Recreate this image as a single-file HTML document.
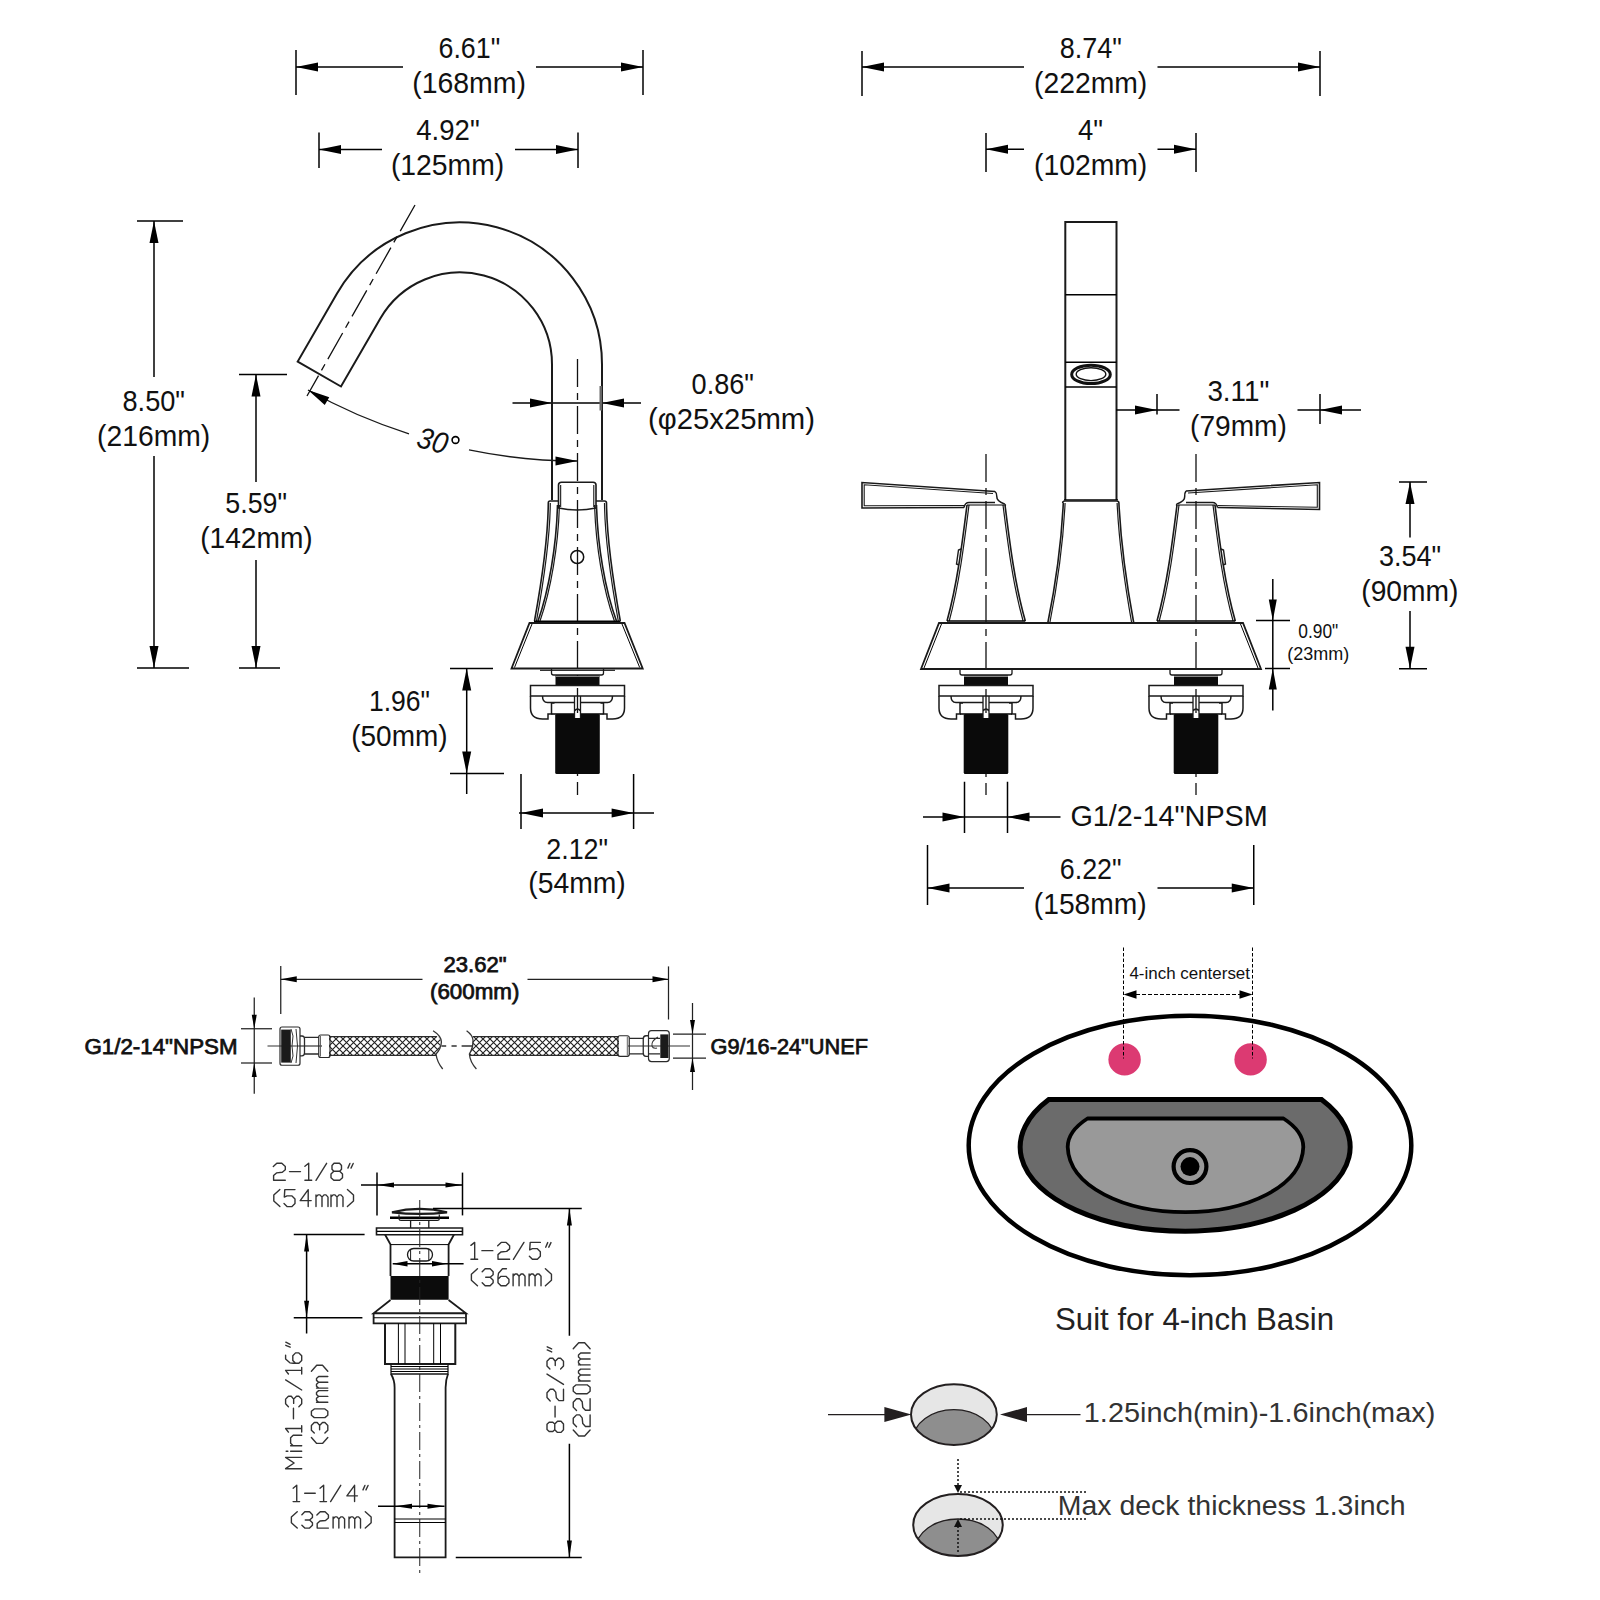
<!DOCTYPE html>
<html><head><meta charset="utf-8"><style>
html,body{margin:0;padding:0;background:#fff;overflow:hidden;width:1600px;height:1600px;}
svg{display:block;}
</style></head><body>
<svg width="1600" height="1600" viewBox="0 0 1600 1600">
<rect width="1600" height="1600" fill="#fff"/>
<line x1="296" y1="50" x2="296" y2="95" stroke="#000" stroke-width="1.5" />
<line x1="643" y1="50" x2="643" y2="95" stroke="#000" stroke-width="1.5" />
<line x1="296" y1="67" x2="403" y2="67" stroke="#000" stroke-width="1.5" />
<line x1="536" y1="67" x2="643" y2="67" stroke="#000" stroke-width="1.5" />
<polygon points="296,67 318,62.5 318,71.5" fill="#000"/>
<polygon points="643,67 621,71.5 621,62.5" fill="#000"/>
<text x="438.5" y="58" font-family="&quot;Liberation Sans&quot;, sans-serif" font-size="30" font-weight="normal" font-style="normal" fill="#111" textLength="61.7" lengthAdjust="spacingAndGlyphs" >6.61"</text>
<text x="412.2" y="92.6" font-family="&quot;Liberation Sans&quot;, sans-serif" font-size="30" font-weight="normal" font-style="normal" fill="#111" textLength="113.8" lengthAdjust="spacingAndGlyphs" >(168mm)</text>
<line x1="319" y1="132.5" x2="319" y2="168" stroke="#000" stroke-width="1.5" />
<line x1="578" y1="132.5" x2="578" y2="168" stroke="#000" stroke-width="1.5" />
<line x1="319" y1="149.5" x2="382" y2="149.5" stroke="#000" stroke-width="1.5" />
<line x1="515" y1="149.5" x2="578" y2="149.5" stroke="#000" stroke-width="1.5" />
<polygon points="319,149.5 341,145 341,154" fill="#000"/>
<polygon points="578,149.5 556,154 556,145" fill="#000"/>
<text x="416.3" y="139.7" font-family="&quot;Liberation Sans&quot;, sans-serif" font-size="30" font-weight="normal" font-style="normal" fill="#111" textLength="63.4" lengthAdjust="spacingAndGlyphs" >4.92"</text>
<text x="390.9" y="174.7" font-family="&quot;Liberation Sans&quot;, sans-serif" font-size="30" font-weight="normal" font-style="normal" fill="#111" textLength="113.3" lengthAdjust="spacingAndGlyphs" >(125mm)</text>
<line x1="137" y1="221" x2="183" y2="221" stroke="#000" stroke-width="1.5" />
<line x1="137" y1="668" x2="189" y2="668" stroke="#000" stroke-width="1.5" />
<line x1="154" y1="221" x2="154" y2="377" stroke="#000" stroke-width="1.5" />
<line x1="154" y1="456" x2="154" y2="668" stroke="#000" stroke-width="1.5" />
<polygon points="154,221 158.5,243 149.5,243" fill="#000"/>
<polygon points="154,668 149.5,646 158.5,646" fill="#000"/>
<text x="122.5" y="410.9" font-family="&quot;Liberation Sans&quot;, sans-serif" font-size="30" font-weight="normal" font-style="normal" fill="#111" textLength="62.5" lengthAdjust="spacingAndGlyphs" >8.50"</text>
<text x="97.1" y="446" font-family="&quot;Liberation Sans&quot;, sans-serif" font-size="30" font-weight="normal" font-style="normal" fill="#111" textLength="113.1" lengthAdjust="spacingAndGlyphs" >(216mm)</text>
<line x1="239" y1="374.5" x2="287" y2="374.5" stroke="#000" stroke-width="1.5" />
<line x1="239" y1="668" x2="280" y2="668" stroke="#000" stroke-width="1.5" />
<line x1="256" y1="374.5" x2="256" y2="482" stroke="#000" stroke-width="1.5" />
<line x1="256" y1="560" x2="256" y2="668" stroke="#000" stroke-width="1.5" />
<polygon points="256,374.5 260.5,396.5 251.5,396.5" fill="#000"/>
<polygon points="256,668 251.5,646 260.5,646" fill="#000"/>
<text x="225.3" y="512.9" font-family="&quot;Liberation Sans&quot;, sans-serif" font-size="30" font-weight="normal" font-style="normal" fill="#111" textLength="61.7" lengthAdjust="spacingAndGlyphs" >5.59"</text>
<text x="200.2" y="547.8" font-family="&quot;Liberation Sans&quot;, sans-serif" font-size="30" font-weight="normal" font-style="normal" fill="#111" textLength="112.5" lengthAdjust="spacingAndGlyphs" >(142mm)</text>
<line x1="512.5" y1="403" x2="641" y2="403" stroke="#000" stroke-width="1.5" />
<polygon points="552,403 530,407.5 530,398.5" fill="#000"/>
<polygon points="602,403 624,398.5 624,407.5" fill="#000"/>
<text x="691.6" y="393.5" font-family="&quot;Liberation Sans&quot;, sans-serif" font-size="30" font-weight="normal" font-style="normal" fill="#111" textLength="62.4" lengthAdjust="spacingAndGlyphs" >0.86"</text>
<text x="648" y="428.5" font-family="&quot;Liberation Sans&quot;, sans-serif" font-size="30" font-weight="normal" font-style="normal" fill="#111" textLength="167" lengthAdjust="spacingAndGlyphs" >(φ25x25mm)</text>
<path d="M602,500 L602,364.5 A142,142 0 0 0 337,293.5 L297.7,361.6 L341,386.5 L380.3,318.5 A92,92 0 0 1 552,364.5 L552,500" stroke="#1a1a1a" stroke-width="2.0" fill="none" />
<line x1="600.8" y1="386" x2="600.8" y2="410.5" stroke="#666" stroke-width="2.6" />
<line x1="415" y1="205" x2="307" y2="396" stroke="#111" stroke-width="1.3" stroke-dasharray="30 6 7 6"/>
<line x1="577.5" y1="359" x2="577.5" y2="795" stroke="#111" stroke-width="1.3" stroke-dasharray="28 6 7 6"/>
<path d="M308,390 A535,535 0 0 0 409,433.77" stroke="#1a1a1a" stroke-width="1.3" fill="none" />
<path d="M469,449.88 A535,535 0 0 0 577.5,461" stroke="#1a1a1a" stroke-width="1.3" fill="none" />
<polygon points="308,390 329.28,397.16 324.76,404.94" fill="#000"/>
<polygon points="577.5,461 555.5,465.5 555.5,456.5" fill="#000"/>
<g transform="translate(433,440.5) rotate(15)">
<text x="-15.5" y="10.3" font-family="&quot;Liberation Sans&quot;, sans-serif" font-size="30" font-weight="normal" font-style="italic" fill="#111" textLength="30.5" lengthAdjust="spacingAndGlyphs" >30</text>
</g>
<circle cx="455.5" cy="440" r="3.4" fill="none" stroke="#000" stroke-width="1.6"/>
<path d="M558.5,508 L558.5,485 Q558.5,482.2 561.5,482.2 L593,482.2 Q596,482.2 596,485 L596,508 Q577,512 558.5,508 Z" stroke="#1a1a1a" stroke-width="1.6" fill="none" />
<line x1="560.7" y1="485" x2="560.7" y2="507" stroke="#000" stroke-width="1.0" />
<line x1="593.8" y1="485" x2="593.8" y2="507" stroke="#000" stroke-width="1.0" />
<path d="M558.5,501 L550,501 Q548.3,501 548.3,503" stroke="#1a1a1a" stroke-width="1.6" fill="none" />
<path d="M596,501 L604.5,501 Q606.5,501 606.5,503" stroke="#1a1a1a" stroke-width="1.6" fill="none" />
<path d="M548.3,503 C548,540 541,585 534.5,621" stroke="#1a1a1a" stroke-width="1.6" fill="none" />
<path d="M550.3,503 C550,540 543,585 536.5,621" stroke="#1a1a1a" stroke-width="1.2" fill="none" />
<path d="M557.5,505 C556.5,545 549,590 538,621" stroke="#1a1a1a" stroke-width="1.6" fill="none" />
<path d="M559.4,505 C558.4,545 550.9,590 540,621" stroke="#1a1a1a" stroke-width="1.2" fill="none" />
<path d="M606.5,503 C606.8,540 613.8,585 620.3,621" stroke="#1a1a1a" stroke-width="1.6" fill="none" />
<path d="M604.5,503 C604.8,540 611.8,585 618.3,621" stroke="#1a1a1a" stroke-width="1.2" fill="none" />
<path d="M596.5,505 C597.5,545 605,590 616.5,621" stroke="#1a1a1a" stroke-width="1.6" fill="none" />
<path d="M594.6,505 C595.6,545 603.1,590 614.4,621" stroke="#1a1a1a" stroke-width="1.2" fill="none" />
<line x1="534" y1="621.5" x2="620.5" y2="621.5" stroke="#000" stroke-width="2.2" />
<circle cx="577.2" cy="557" r="6.5" fill="none" stroke="#111" stroke-width="1.5"/>
<path d="M529.5,623 L624.5,623 L642.7,668.5 L511.5,668.5 Z" stroke="#1a1a1a" stroke-width="1.8" fill="none" />
<line x1="532" y1="624" x2="514.5" y2="667.5" stroke="#000" stroke-width="1.0" />
<line x1="622" y1="624" x2="639.7" y2="667.5" stroke="#000" stroke-width="1.0" />
<line x1="540" y1="670.3" x2="615" y2="670.3" stroke="#000" stroke-width="1.0" />
<path d="M551.5,669 L551.5,673 Q551.5,675 553.5,675 L601.5,675 Q603.5,675 603.5,673 L603.5,669" stroke="#1a1a1a" stroke-width="1.3" fill="none" />
<rect x="555.5" y="675.5" width="44" height="10.5" fill="#0c0c0c"/>
<line x1="555.5" y1="676.5" x2="599.5" y2="676.5" stroke="#888" stroke-width="1.2" />
<path d="M530.5,696 L530.5,685.6 L624.5,685.6 L624.5,696 Z" stroke="#1a1a1a" stroke-width="1.5" fill="none" />
<path d="M530.5,696 L530.5,708 Q530.5,719 542.5,719 L548.0,719 L548.0,714 L551.5,714 L551.5,703 L554.5,703" stroke="#1a1a1a" stroke-width="1.5" fill="none" />
<path d="M624.5,696 L624.5,708 Q624.5,719 612.5,719 L607.0,719 L607.0,714 L603.5,714 L603.5,703 L600.5,703" stroke="#1a1a1a" stroke-width="1.5" fill="none" />
<path d="M542.5,696 Q542.5,702.5 547.5,702.5 L574.5,702.5" stroke="#1a1a1a" stroke-width="1.5" fill="none" />
<path d="M612.5,696 Q612.5,702.5 607.5,702.5 L580.5,702.5" stroke="#1a1a1a" stroke-width="1.5" fill="none" />
<line x1="551.5" y1="714" x2="603.5" y2="714" stroke="#000" stroke-width="1.5" />
<rect x="555.2" y="714" width="44.6" height="60" rx="1.5" fill="#0a0a0a"/>
<rect x="574.5" y="713" width="6" height="5" fill="#fff"/>
<path d="M574.5,696 L574.5,718 M580.5,696 L580.5,718 M574.5,711 Q577.5,707 580.5,711" stroke="#1a1a1a" stroke-width="1.3" fill="none" />
<line x1="450" y1="668.4" x2="493" y2="668.4" stroke="#000" stroke-width="1.5" />
<line x1="450" y1="773.4" x2="504" y2="773.4" stroke="#000" stroke-width="1.5" />
<line x1="466.7" y1="668.4" x2="466.7" y2="794" stroke="#000" stroke-width="1.5" />
<polygon points="466.7,668.4 471.2,690.4 462.2,690.4" fill="#000"/>
<polygon points="466.7,773.4 462.2,751.4 471.2,751.4" fill="#000"/>
<text x="368.9" y="710.75" font-family="&quot;Liberation Sans&quot;, sans-serif" font-size="30" font-weight="normal" font-style="normal" fill="#111" textLength="61.1" lengthAdjust="spacingAndGlyphs" >1.96"</text>
<text x="351.25" y="745.6" font-family="&quot;Liberation Sans&quot;, sans-serif" font-size="30" font-weight="normal" font-style="normal" fill="#111" textLength="96.35" lengthAdjust="spacingAndGlyphs" >(50mm)</text>
<line x1="521" y1="774" x2="521" y2="829" stroke="#000" stroke-width="1.5" />
<line x1="633.6" y1="774" x2="633.6" y2="829" stroke="#000" stroke-width="1.5" />
<line x1="519" y1="813" x2="654" y2="813" stroke="#000" stroke-width="1.5" />
<polygon points="521,813 543,808.5 543,817.5" fill="#000"/>
<polygon points="633.6,813 611.6,817.5 611.6,808.5" fill="#000"/>
<text x="546.3" y="858.9" font-family="&quot;Liberation Sans&quot;, sans-serif" font-size="30" font-weight="normal" font-style="normal" fill="#111" textLength="61.8" lengthAdjust="spacingAndGlyphs" >2.12"</text>
<text x="528.25" y="892.6" font-family="&quot;Liberation Sans&quot;, sans-serif" font-size="30" font-weight="normal" font-style="normal" fill="#111" textLength="97.55" lengthAdjust="spacingAndGlyphs" >(54mm)</text>
<line x1="862" y1="51" x2="862" y2="96" stroke="#000" stroke-width="1.5" />
<line x1="1320" y1="51" x2="1320" y2="96" stroke="#000" stroke-width="1.5" />
<line x1="862" y1="67" x2="1024" y2="67" stroke="#000" stroke-width="1.5" />
<line x1="1157.5" y1="67" x2="1320" y2="67" stroke="#000" stroke-width="1.5" />
<polygon points="862,67 884,62.5 884,71.5" fill="#000"/>
<polygon points="1320,67 1298,71.5 1298,62.5" fill="#000"/>
<text x="1059.8" y="58" font-family="&quot;Liberation Sans&quot;, sans-serif" font-size="30" font-weight="normal" font-style="normal" fill="#111" textLength="62.1" lengthAdjust="spacingAndGlyphs" >8.74"</text>
<text x="1034" y="92.6" font-family="&quot;Liberation Sans&quot;, sans-serif" font-size="30" font-weight="normal" font-style="normal" fill="#111" textLength="113.3" lengthAdjust="spacingAndGlyphs" >(222mm)</text>
<line x1="986" y1="133" x2="986" y2="172" stroke="#000" stroke-width="1.5" />
<line x1="1196" y1="133" x2="1196" y2="172" stroke="#000" stroke-width="1.5" />
<line x1="986" y1="149.3" x2="1024" y2="149.3" stroke="#000" stroke-width="1.5" />
<line x1="1157.5" y1="149.3" x2="1196" y2="149.3" stroke="#000" stroke-width="1.5" />
<polygon points="986,149.3 1008,144.8 1008,153.8" fill="#000"/>
<polygon points="1196,149.3 1174,153.8 1174,144.8" fill="#000"/>
<text x="1078" y="139.7" font-family="&quot;Liberation Sans&quot;, sans-serif" font-size="30" font-weight="normal" font-style="normal" fill="#111" textLength="25" lengthAdjust="spacingAndGlyphs" >4"</text>
<text x="1034" y="174.7" font-family="&quot;Liberation Sans&quot;, sans-serif" font-size="30" font-weight="normal" font-style="normal" fill="#111" textLength="113.3" lengthAdjust="spacingAndGlyphs" >(102mm)</text>
<path d="M1065.3,500 L1065.3,222 L1116.5,222 L1116.5,500" stroke="#1a1a1a" stroke-width="2.0" fill="none" />
<line x1="1065.3" y1="294.7" x2="1116.5" y2="294.7" stroke="#000" stroke-width="1.6" />
<line x1="1065.3" y1="362.2" x2="1116.5" y2="362.2" stroke="#000" stroke-width="1.6" />
<line x1="1065.3" y1="387" x2="1116.5" y2="387" stroke="#000" stroke-width="1.6" />
<ellipse cx="1091" cy="374.4" rx="19.3" ry="9.2" fill="none" stroke="#111" stroke-width="3"/>
<ellipse cx="1091" cy="374.2" rx="14.8" ry="6.4" fill="none" stroke="#111" stroke-width="1.4"/>
<path d="M1062.7,503 Q1062.7,501 1065,501 L1116.5,501 Q1118.9,501 1118.9,503" stroke="#1a1a1a" stroke-width="1.6" fill="none" />
<path d="M1063.3,503 C1061.5,540 1055.5,585 1047.8,623" stroke="#1a1a1a" stroke-width="1.6" fill="none" />
<path d="M1065.1,503 C1063.3,540 1057.3,585 1049.8,623" stroke="#1a1a1a" stroke-width="1.2" fill="none" />
<path d="M1118.9,503 C1120.7,540 1126.7,585 1133.75,623" stroke="#1a1a1a" stroke-width="1.6" fill="none" />
<path d="M1117.1,503 C1118.9,540 1124.9,585 1131.7,623" stroke="#1a1a1a" stroke-width="1.2" fill="none" />
<line x1="1064" y1="499.8" x2="1118" y2="499.8" stroke="#000" stroke-width="1.2" />
<path d="M967,505 C962,545 957,585 947,621" stroke="#1a1a1a" stroke-width="1.6" fill="none" />
<path d="M969,505 C964,545 959,585 949.2,621" stroke="#1a1a1a" stroke-width="1.2" fill="none" />
<path d="M1005,505 C1010,545 1015,585 1025.3,621" stroke="#1a1a1a" stroke-width="1.6" fill="none" />
<path d="M1003,505 C1008,545 1013,585 1023.1,621" stroke="#1a1a1a" stroke-width="1.2" fill="none" />
<line x1="947" y1="621" x2="1025.3" y2="621" stroke="#000" stroke-width="1.6" />
<path d="M1177,505 C1172,545 1167,585 1157,621" stroke="#1a1a1a" stroke-width="1.6" fill="none" />
<path d="M1179,505 C1174,545 1169,585 1159.2,621" stroke="#1a1a1a" stroke-width="1.2" fill="none" />
<path d="M1215,505 C1220,545 1225,585 1235.3,621" stroke="#1a1a1a" stroke-width="1.6" fill="none" />
<path d="M1213,505 C1218,545 1223,585 1233.1,621" stroke="#1a1a1a" stroke-width="1.2" fill="none" />
<line x1="1157" y1="621" x2="1235.3" y2="621" stroke="#000" stroke-width="1.6" />
<path d="M995,491.5 L862,482.5 L862,508 L964,507.5" stroke="#1a1a1a" stroke-width="1.6" fill="none" />
<path d="M993,493.5 L864.2,484.8 L864.2,505.8 L964,505.5" stroke="#1a1a1a" stroke-width="1.1" fill="none" />
<path d="M964,507.5 Q965,502.5 969,502.5 L995,502.5" stroke="#1a1a1a" stroke-width="1.5" fill="none" />
<line x1="967" y1="505" x2="1004" y2="505" stroke="#000" stroke-width="1.1" />
<path d="M995,491.5 Q997,493 996.8,496.5 Q996.5,501 1004.5,504 Q1006,505 1005,506" stroke="#1a1a1a" stroke-width="1.5" fill="none" />
<path d="M961,549 L958.5,550 L956.5,564 L959,565" stroke="#1a1a1a" stroke-width="1.4" fill="none" />
<path d="M1186,491 L1319.5,482.5 L1319.5,509.5 L1217.5,507.5" stroke="#1a1a1a" stroke-width="1.6" fill="none" />
<path d="M1188,493 L1317.3,484.8 L1317.3,507.3 L1217.5,505.5" stroke="#1a1a1a" stroke-width="1.1" fill="none" />
<path d="M1217.5,507.5 Q1216.5,502.5 1212.5,502.5 L1186,502.5" stroke="#1a1a1a" stroke-width="1.5" fill="none" />
<line x1="1178" y1="505" x2="1215" y2="505" stroke="#000" stroke-width="1.1" />
<path d="M1186,491 Q1184.5,493 1184.7,496.5 Q1185,501 1177,504 Q1176,505 1177,506" stroke="#1a1a1a" stroke-width="1.5" fill="none" />
<path d="M1221,549 L1223.5,550 L1225.5,564 L1223,565" stroke="#1a1a1a" stroke-width="1.4" fill="none" />
<line x1="986" y1="454" x2="986" y2="795" stroke="#111" stroke-width="1.3" stroke-dasharray="28 6 7 6"/>
<line x1="1196" y1="454" x2="1196" y2="795" stroke="#111" stroke-width="1.3" stroke-dasharray="28 6 7 6"/>
<path d="M939,623 L1243,623 L1261,669 L921,669 Z" stroke="#1a1a1a" stroke-width="1.8" fill="none" />
<line x1="941.5" y1="624" x2="924" y2="668" stroke="#000" stroke-width="1.0" />
<line x1="1240.5" y1="624" x2="1258" y2="668" stroke="#000" stroke-width="1.0" />
<path d="M960,669 L960,673 Q960,675 962,675 L1010,675 Q1012,675 1012,673 L1012,669" stroke="#1a1a1a" stroke-width="1.3" fill="none" />
<rect x="964" y="675.5" width="44" height="10.5" fill="#0c0c0c"/>
<line x1="964" y1="676.5" x2="1008" y2="676.5" stroke="#888" stroke-width="1.2" />
<path d="M939,696 L939,685.6 L1033,685.6 L1033,696 Z" stroke="#1a1a1a" stroke-width="1.5" fill="none" />
<path d="M939,696 L939,708 Q939,719 951,719 L956.5,719 L956.5,714 L960,714 L960,703 L963,703" stroke="#1a1a1a" stroke-width="1.5" fill="none" />
<path d="M1033,696 L1033,708 Q1033,719 1021,719 L1015.5,719 L1015.5,714 L1012,714 L1012,703 L1009,703" stroke="#1a1a1a" stroke-width="1.5" fill="none" />
<path d="M951,696 Q951,702.5 956,702.5 L983,702.5" stroke="#1a1a1a" stroke-width="1.5" fill="none" />
<path d="M1021,696 Q1021,702.5 1016,702.5 L989,702.5" stroke="#1a1a1a" stroke-width="1.5" fill="none" />
<line x1="960" y1="714" x2="1012" y2="714" stroke="#000" stroke-width="1.5" />
<rect x="963.7" y="714" width="44.6" height="60" rx="1.5" fill="#0a0a0a"/>
<rect x="983" y="713" width="6" height="5" fill="#fff"/>
<path d="M983,696 L983,718 M989,696 L989,718 M983,711 Q986,707 989,711" stroke="#1a1a1a" stroke-width="1.3" fill="none" />
<path d="M1170,669 L1170,673 Q1170,675 1172,675 L1220,675 Q1222,675 1222,673 L1222,669" stroke="#1a1a1a" stroke-width="1.3" fill="none" />
<rect x="1174" y="675.5" width="44" height="10.5" fill="#0c0c0c"/>
<line x1="1174" y1="676.5" x2="1218" y2="676.5" stroke="#888" stroke-width="1.2" />
<path d="M1149,696 L1149,685.6 L1243,685.6 L1243,696 Z" stroke="#1a1a1a" stroke-width="1.5" fill="none" />
<path d="M1149,696 L1149,708 Q1149,719 1161,719 L1166.5,719 L1166.5,714 L1170,714 L1170,703 L1173,703" stroke="#1a1a1a" stroke-width="1.5" fill="none" />
<path d="M1243,696 L1243,708 Q1243,719 1231,719 L1225.5,719 L1225.5,714 L1222,714 L1222,703 L1219,703" stroke="#1a1a1a" stroke-width="1.5" fill="none" />
<path d="M1161,696 Q1161,702.5 1166,702.5 L1193,702.5" stroke="#1a1a1a" stroke-width="1.5" fill="none" />
<path d="M1231,696 Q1231,702.5 1226,702.5 L1199,702.5" stroke="#1a1a1a" stroke-width="1.5" fill="none" />
<line x1="1170" y1="714" x2="1222" y2="714" stroke="#000" stroke-width="1.5" />
<rect x="1173.7" y="714" width="44.6" height="60" rx="1.5" fill="#0a0a0a"/>
<rect x="1193" y="713" width="6" height="5" fill="#fff"/>
<path d="M1193,696 L1193,718 M1199,696 L1199,718 M1193,711 Q1196,707 1199,711" stroke="#1a1a1a" stroke-width="1.3" fill="none" />
<line x1="1116" y1="410" x2="1179.5" y2="410" stroke="#000" stroke-width="1.5" />
<polygon points="1157,410 1135,414.5 1135,405.5" fill="#000"/>
<line x1="1157" y1="394" x2="1157" y2="414.5" stroke="#000" stroke-width="1.5" />
<line x1="1297.5" y1="410" x2="1361" y2="410" stroke="#000" stroke-width="1.5" />
<polygon points="1320,410 1342,405.5 1342,414.5" fill="#000"/>
<line x1="1320" y1="394" x2="1320" y2="424" stroke="#000" stroke-width="1.5" />
<text x="1207.4" y="400.75" font-family="&quot;Liberation Sans&quot;, sans-serif" font-size="30" font-weight="normal" font-style="normal" fill="#111" textLength="61.9" lengthAdjust="spacingAndGlyphs" >3.11"</text>
<text x="1190.1" y="436" font-family="&quot;Liberation Sans&quot;, sans-serif" font-size="30" font-weight="normal" font-style="normal" fill="#111" textLength="96.8" lengthAdjust="spacingAndGlyphs" >(79mm)</text>
<line x1="1399" y1="482" x2="1427" y2="482" stroke="#000" stroke-width="1.5" />
<line x1="1399" y1="668.75" x2="1427" y2="668.75" stroke="#000" stroke-width="1.5" />
<line x1="1410" y1="482" x2="1410" y2="537.5" stroke="#000" stroke-width="1.5" />
<line x1="1410" y1="611" x2="1410" y2="668.75" stroke="#000" stroke-width="1.5" />
<polygon points="1410,482 1414.5,504 1405.5,504" fill="#000"/>
<polygon points="1410,668.75 1405.5,646.75 1414.5,646.75" fill="#000"/>
<text x="1378.9" y="566" font-family="&quot;Liberation Sans&quot;, sans-serif" font-size="30" font-weight="normal" font-style="normal" fill="#111" textLength="62.2" lengthAdjust="spacingAndGlyphs" >3.54"</text>
<text x="1361.25" y="600.9" font-family="&quot;Liberation Sans&quot;, sans-serif" font-size="30" font-weight="normal" font-style="normal" fill="#111" textLength="97.15" lengthAdjust="spacingAndGlyphs" >(90mm)</text>
<line x1="1256" y1="620.6" x2="1290" y2="620.6" stroke="#000" stroke-width="1.5" />
<line x1="1265" y1="668.5" x2="1290" y2="668.5" stroke="#000" stroke-width="1.5" />
<line x1="1272.8" y1="579" x2="1272.8" y2="710.6" stroke="#000" stroke-width="1.5" />
<polygon points="1272.8,620.6 1268.8,599.6 1276.8,599.6" fill="#000"/>
<polygon points="1272.8,668.5 1276.8,689.5 1268.8,689.5" fill="#000"/>
<text x="1298.25" y="638" font-family="&quot;Liberation Sans&quot;, sans-serif" font-size="19.5" font-weight="normal" font-style="normal" fill="#111" textLength="40" lengthAdjust="spacingAndGlyphs" >0.90"</text>
<text x="1287.25" y="659.5" font-family="&quot;Liberation Sans&quot;, sans-serif" font-size="18.5" font-weight="normal" font-style="normal" fill="#111" textLength="62" lengthAdjust="spacingAndGlyphs" >(23mm)</text>
<line x1="923" y1="817" x2="1060.5" y2="817" stroke="#000" stroke-width="1.5" />
<line x1="964.5" y1="781.75" x2="964.5" y2="833" stroke="#000" stroke-width="1.5" />
<line x1="1007.5" y1="781.75" x2="1007.5" y2="833" stroke="#000" stroke-width="1.5" />
<polygon points="964.5,817 942.5,821.5 942.5,812.5" fill="#000"/>
<polygon points="1007.5,817 1029.5,812.5 1029.5,821.5" fill="#000"/>
<text x="1070.4" y="825.75" font-family="&quot;Liberation Sans&quot;, sans-serif" font-size="30" font-weight="normal" font-style="normal" fill="#111" textLength="197.4" lengthAdjust="spacingAndGlyphs" >G1/2-14"NPSM</text>
<line x1="927.5" y1="845" x2="927.5" y2="905" stroke="#000" stroke-width="1.5" />
<line x1="1253.75" y1="845" x2="1253.75" y2="905" stroke="#000" stroke-width="1.5" />
<line x1="927.5" y1="888" x2="1024" y2="888" stroke="#000" stroke-width="1.5" />
<line x1="1157.5" y1="888" x2="1253.75" y2="888" stroke="#000" stroke-width="1.5" />
<polygon points="927.5,888 949.5,883.5 949.5,892.5" fill="#000"/>
<polygon points="1253.75,888 1231.75,892.5 1231.75,883.5" fill="#000"/>
<text x="1059.8" y="878.6" font-family="&quot;Liberation Sans&quot;, sans-serif" font-size="30" font-weight="normal" font-style="normal" fill="#111" textLength="61.8" lengthAdjust="spacingAndGlyphs" >6.22"</text>
<text x="1033.8" y="913.5" font-family="&quot;Liberation Sans&quot;, sans-serif" font-size="30" font-weight="normal" font-style="normal" fill="#111" textLength="112.9" lengthAdjust="spacingAndGlyphs" >(158mm)</text>
<line x1="280.75" y1="966" x2="280.75" y2="1014" stroke="#222" stroke-width="1.25" />
<line x1="668.5" y1="966.4" x2="668.5" y2="1019.5" stroke="#222" stroke-width="1.25" />
<line x1="280.75" y1="979.25" x2="422.5" y2="979.25" stroke="#222" stroke-width="1.25" />
<line x1="527.5" y1="979.25" x2="668.5" y2="979.25" stroke="#222" stroke-width="1.25" />
<polygon points="280.75,979.25 296.75,976.25 296.75,982.25" fill="#000"/>
<polygon points="668.5,979.25 652.5,982.25 652.5,976.25" fill="#000"/>
<text x="443.5" y="971.5" font-family="&quot;Liberation Sans&quot;, sans-serif" font-size="21.5" font-weight="normal" font-style="normal" fill="#111" textLength="63" lengthAdjust="spacingAndGlyphs" stroke="#111" stroke-width="0.75">23.62"</text>
<text x="430" y="998.5" font-family="&quot;Liberation Sans&quot;, sans-serif" font-size="21.5" font-weight="normal" font-style="normal" fill="#111" textLength="89.4" lengthAdjust="spacingAndGlyphs" stroke="#111" stroke-width="0.75">(600mm)</text>
<line x1="254.25" y1="997.5" x2="254.25" y2="1093.75" stroke="#222" stroke-width="1.25" />
<line x1="241" y1="1028.75" x2="272" y2="1028.75" stroke="#222" stroke-width="1.25" />
<line x1="241" y1="1063" x2="272" y2="1063" stroke="#222" stroke-width="1.25" />
<polygon points="254.25,1028.75 251.75,1014.75 256.75,1014.75" fill="#000"/>
<polygon points="254.25,1063 256.75,1077 251.75,1077" fill="#000"/>
<text x="84.5" y="1053.75" font-family="&quot;Liberation Sans&quot;, sans-serif" font-size="21.5" font-weight="normal" font-style="normal" fill="#111" textLength="153" lengthAdjust="spacingAndGlyphs" stroke="#111" stroke-width="0.75">G1/2-14"NPSM</text>
<line x1="692.5" y1="1003" x2="692.5" y2="1090" stroke="#222" stroke-width="1.25" />
<line x1="673" y1="1034" x2="706" y2="1034" stroke="#222" stroke-width="1.25" />
<line x1="673" y1="1058" x2="706" y2="1058" stroke="#222" stroke-width="1.25" />
<polygon points="692.5,1034 690,1020 695,1020" fill="#000"/>
<polygon points="692.5,1058 695,1072 690,1072" fill="#000"/>
<text x="710.5" y="1054" font-family="&quot;Liberation Sans&quot;, sans-serif" font-size="21.5" font-weight="normal" font-style="normal" fill="#111" textLength="157.5" lengthAdjust="spacingAndGlyphs" stroke="#111" stroke-width="0.75">G9/16-24"UNEF</text>
<defs><pattern id="braid" x="0" y="1039" width="7" height="7" patternUnits="userSpaceOnUse"><path d="M-1,-1 L8,8 M8,-1 L-1,8" stroke="#222" stroke-width="1.15"/></pattern><clipPath id="hl"><path d="M329,1036.6 L437,1036.6 Q441.5,1040 441.4,1042 Q440,1049 436,1054 L436,1055.4 L329,1055.4 Z"/></clipPath><clipPath id="hr"><path d="M472.8,1036.6 L619,1036.6 L619,1055.4 L469.4,1055.4 L469.4,1054 Q472,1050 472,1046 Q473,1040 472.8,1036.6 Z"/></clipPath></defs>
<rect x="329" y="1036" width="115" height="20" fill="url(#braid)" clip-path="url(#hl)"/>
<rect x="465" y="1036" width="155" height="20" fill="url(#braid)" clip-path="url(#hr)"/>
<line x1="329" y1="1036.6" x2="437" y2="1036.6" stroke="#2a2a2a" stroke-width="1.2" />
<line x1="329" y1="1055.4" x2="436" y2="1055.4" stroke="#2a2a2a" stroke-width="1.2" />
<line x1="472.8" y1="1036.6" x2="619" y2="1036.6" stroke="#2a2a2a" stroke-width="1.2" />
<line x1="469.4" y1="1055.4" x2="619" y2="1055.4" stroke="#2a2a2a" stroke-width="1.2" />
<path d="M433.1,1030.7 Q441.5,1036 441.4,1042 Q441,1049 436,1054 Q437,1062 442.7,1069" stroke="#333" stroke-width="1.3" fill="none" />
<path d="M466.6,1030.7 Q472.5,1035 473,1040 Q473.5,1047 469.4,1054 Q470,1062 476.4,1069" stroke="#333" stroke-width="1.3" fill="none" />
<line x1="267.5" y1="1046" x2="300" y2="1046" stroke="#333" stroke-width="1.2" />
<line x1="300" y1="1046" x2="322" y2="1046" stroke="#333" stroke-width="1.2" />
<path d="M441.4,1046 L446.2,1046 M451.5,1046 L456.7,1046 M461.6,1046 L472,1046" stroke="#333" stroke-width="1.3" fill="none" />
<line x1="628" y1="1046" x2="690" y2="1046" stroke="#333" stroke-width="1.2" />
<rect x="280" y="1027" width="20" height="38.25" rx="2" fill="none" stroke="#2a2a2a" stroke-width="1.2"/>
<rect x="281.2" y="1029.6" width="9.6" height="33" fill="#1a1a1a"/>
<path d="M291,1029 L293,1036 L292,1046 L293,1056 L291,1063 M296,1029 L297.5,1046 L296,1063" stroke="#333" stroke-width="1.0" fill="none" />
<path d="M300,1036 L302,1036 Q304.5,1036 304.5,1039 L304.5,1053 Q304.5,1055.8 302,1055.8 L300,1055.8" stroke="#2a2a2a" stroke-width="1.3" fill="none" />
<path d="M304.5,1037.3 L318.75,1037.3 M304.5,1054 L318.75,1054" stroke="#2a2a2a" stroke-width="1.3" fill="none" />
<rect x="318.75" y="1035" width="11.25" height="22.5" rx="2" fill="none" stroke="#2a2a2a" stroke-width="1.2"/>
<line x1="320.5" y1="1036" x2="320.5" y2="1056.5" stroke="#555" stroke-width="0.9" />
<rect x="617.9" y="1035.75" width="11.35" height="20.55" rx="2" fill="none" stroke="#2a2a2a" stroke-width="1.2"/>
<line x1="627.3" y1="1036.5" x2="627.3" y2="1055.5" stroke="#555" stroke-width="0.9" />
<path d="M629.25,1038.4 L643.25,1038.4 M629.25,1053.9 L643.25,1053.9" stroke="#2a2a2a" stroke-width="1.3" fill="none" />
<path d="M648.5,1035.75 L646,1035.75 Q643.25,1035.75 643.25,1039 L643.25,1053 Q643.25,1056.3 646,1056.3 L648.5,1056.3" stroke="#2a2a2a" stroke-width="1.3" fill="none" />
<rect x="648.5" y="1030.7" width="20.8" height="30.9" rx="3" fill="none" stroke="#2a2a2a" stroke-width="1.2"/>
<rect x="660.3" y="1034.4" width="8.2" height="23.6" fill="#1a1a1a"/>
<path d="M648.5,1038.4 L660,1038.4 M648.5,1053.9 L660,1053.9" stroke="#2a2a2a" stroke-width="1.2" fill="none" />
<path d="M658,1037 Q651,1041 652,1046 Q653,1049 657,1048" stroke="#333" stroke-width="1.1" fill="none" />
<line x1="377" y1="1172.6" x2="377" y2="1215.4" stroke="#000" stroke-width="1.5" />
<line x1="462.5" y1="1172.6" x2="462.5" y2="1215.4" stroke="#000" stroke-width="1.5" />
<line x1="361" y1="1185" x2="462.5" y2="1185" stroke="#000" stroke-width="1.5" />
<polygon points="377,1185 394,1182.5 394,1187.5" fill="#000"/>
<polygon points="462.5,1185 445.5,1187.5 445.5,1182.5" fill="#000"/>
<path d="M273.3,1166.6 L276.8,1163.3 L281.8,1163.3 L285.3,1166.6 L285.3,1169.8 L282.3,1172.3 L276.5,1172.9 L273.6,1175.6 L273.6,1180.3 L285.3,1180.3 M289.5,1171.6 L300.5,1171.6 M304.9,1166.3 L308.7,1163.3 L308.7,1180.3 M304.9,1180.3 L311.7,1180.3 M316,1180.3 L326.6,1163.3 M333.8,1171.3 L332,1169.3 L332,1165.5 L334,1163.3 L339.5,1163.3 L341.5,1165.5 L341.5,1169.3 L339.7,1171.3 L333.8,1171.3 L331,1174.1 L331,1177.8 L333.8,1180.3 L339.7,1180.3 L342.5,1177.8 L342.5,1174.1 L339.7,1171.3 M347.9,1168.1 L349.9,1163.5 M351,1168.1 L353.2,1163.5" fill="none" stroke="#333" stroke-width="1.4" stroke-linejoin="round" stroke-linecap="round"/>
<path d="M279.9,1189.6 L273.8,1195.1 L273.8,1201.1 L279.9,1206.6 M295,1189.6 L284.8,1189.6 L284.3,1197.1 L287,1195.9 L292,1195.9 L295,1198.9 L295,1203.6 L292,1206.6 L287,1206.6 L284,1203.6 M308.2,1206.6 L308.2,1189.6 L300.2,1200.6 L311.2,1200.6 M316,1194.9 L316,1206.6 M316,1197.1 L318,1194.9 L320,1194.9 L322,1197.1 L322,1206.6 M322,1197.1 L324,1194.9 L326,1194.9 L328,1197.1 L328,1206.6 M331,1194.9 L331,1206.6 M331,1197.1 L333,1194.9 L335,1194.9 L337,1197.1 L337,1206.6 M337,1197.1 L339,1194.9 L341,1194.9 L343,1197.1 L343,1206.6 M347.4,1189.6 L353.5,1195.1 L353.5,1201.1 L347.4,1206.6" fill="none" stroke="#333" stroke-width="1.4" stroke-linejoin="round" stroke-linecap="round"/>
<path d="M392,1212.3 Q420,1205.5 447,1212.3 Q420,1215.5 392,1212.3 Z" stroke="#1a1a1a" stroke-width="2.2" fill="none" />
<line x1="390" y1="1217.8" x2="449" y2="1217.8" stroke="#000" stroke-width="2.4" />
<path d="M399,1214.5 L399,1219 Q399,1220.3 401,1220.3 L437.3,1220.3 Q439.3,1220.3 439.3,1219 L439.3,1214.5" stroke="#1a1a1a" stroke-width="1.2" fill="none" />
<path d="M410.6,1220.3 L410.6,1228 M428.8,1220.3 L428.8,1228" stroke="#1a1a1a" stroke-width="1.3" fill="none" />
<path d="M376.5,1228 L462.5,1228 L462.5,1234.7 L376.5,1234.7 Z" stroke="#1a1a1a" stroke-width="1.6" fill="none" />
<line x1="377" y1="1231.3" x2="462" y2="1231.3" stroke="#000" stroke-width="1.3" />
<path d="M385,1234.5 L390.5,1244.6 L390.5,1276 M454,1234.5 L448.6,1244.6 L448.6,1276" stroke="#1a1a1a" stroke-width="1.8" fill="none" />
<line x1="390.5" y1="1244.6" x2="448.6" y2="1244.6" stroke="#000" stroke-width="1.0" />
<rect x="407.5" y="1248.5" width="25" height="12.5" rx="6.25" fill="none" stroke="#1a1a1a" stroke-width="1.3"/>
<path d="M410.6,1249 L410.6,1260.5 M428.8,1249 L428.8,1260.5" stroke="#1a1a1a" stroke-width="1.0" fill="none" />
<line x1="392.75" y1="1263.75" x2="463.6" y2="1263.75" stroke="#000" stroke-width="1.5" />
<polygon points="392.5,1263.75 407.5,1261 407.5,1266.5" fill="#000"/>
<polygon points="447,1263.75 432,1266.5 432,1261" fill="#000"/>
<path d="M470.9,1245.38 L474.68,1242.4 L474.68,1259.3 M470.9,1259.3 L477.66,1259.3 M481.9,1250.65 L492.84,1250.65 M497.7,1245.68 L501.18,1242.4 L506.15,1242.4 L509.63,1245.68 L509.63,1248.86 L506.65,1251.35 L500.88,1251.94 L498,1254.63 L498,1259.3 L509.63,1259.3 M513.4,1259.3 L523.94,1242.4 M540.34,1242.4 L530.2,1242.4 L529.7,1249.86 L532.38,1248.66 L537.35,1248.66 L540.34,1251.65 L540.34,1256.32 L537.35,1259.3 L532.38,1259.3 L529.4,1256.32 M545.7,1247.17 L547.69,1242.6 M548.78,1247.17 L550.97,1242.6" fill="none" stroke="#333" stroke-width="1.4" stroke-linejoin="round" stroke-linecap="round"/>
<path d="M477.46,1268.8 L471.4,1274.27 L471.4,1280.23 L477.46,1285.7 M482.2,1271.78 L485.18,1268.8 L490.15,1268.8 L493.14,1271.78 L493.14,1274.76 L490.15,1277.25 L485.68,1277.25 M490.15,1277.25 L493.14,1280.23 L493.14,1282.72 L490.15,1285.7 L485.18,1285.7 L482.2,1282.72 M506.45,1268.8 L502.47,1268.8 L498.5,1273.27 L498,1276.75 L498,1282.72 L500.98,1285.7 L505.95,1285.7 L508.94,1282.72 L508.94,1279.24 L505.95,1276.36 L500.98,1276.36 L498,1279.24 M513.1,1274.07 L513.1,1285.7 M513.1,1276.26 L515.09,1274.07 L517.08,1274.07 L519.06,1276.26 L519.06,1285.7 M519.06,1276.26 L521.05,1274.07 L523.04,1274.07 L525.03,1276.26 L525.03,1285.7 M529.1,1274.07 L529.1,1285.7 M529.1,1276.26 L531.09,1274.07 L533.08,1274.07 L535.06,1276.26 L535.06,1285.7 M535.06,1276.26 L537.05,1274.07 L539.04,1274.07 L541.03,1276.26 L541.03,1285.7 M545.4,1268.8 L551.46,1274.27 L551.46,1280.23 L545.4,1285.7" fill="none" stroke="#333" stroke-width="1.4" stroke-linejoin="round" stroke-linecap="round"/>
<rect x="390.5" y="1276" width="58.1" height="23.75" fill="#0c0c0c"/>
<path d="M390.5,1300 L373.6,1313.25 L466,1313.25 L448.6,1300" stroke="#1a1a1a" stroke-width="1.8" fill="none" />
<path d="M373.6,1313.25 L373.6,1323.4 L466,1323.4 L466,1313.25" stroke="#1a1a1a" stroke-width="1.8" fill="none" />
<line x1="374" y1="1317.75" x2="465" y2="1317.75" stroke="#000" stroke-width="1.2" />
<path d="M385,1323.4 L385,1363.9 L455.3,1363.9 L455.3,1323.4" stroke="#1a1a1a" stroke-width="2.0" fill="none" />
<line x1="398.4" y1="1323.4" x2="398.4" y2="1363.9" stroke="#000" stroke-width="1.0" />
<line x1="405" y1="1323.4" x2="405" y2="1363.9" stroke="#000" stroke-width="1.0" />
<line x1="433.7" y1="1323.4" x2="433.7" y2="1363.9" stroke="#000" stroke-width="1.0" />
<line x1="440.5" y1="1323.4" x2="440.5" y2="1363.9" stroke="#000" stroke-width="1.0" />
<path d="M391,1364 L391,1374 L448,1374 L448,1364" stroke="#1a1a1a" stroke-width="1.3" fill="none" />
<line x1="391" y1="1366.5" x2="448" y2="1366.5" stroke="#000" stroke-width="1.0" />
<line x1="391" y1="1369" x2="448" y2="1369" stroke="#000" stroke-width="1.0" />
<line x1="391" y1="1371.5" x2="448" y2="1371.5" stroke="#000" stroke-width="1.0" />
<path d="M391,1374 Q394.6,1380 394.6,1387.5 L394.6,1557.4 L445.6,1557.4 L445.6,1387.5 Q445.6,1380 448,1374" stroke="#1a1a1a" stroke-width="1.8" fill="none" />
<line x1="394.6" y1="1519" x2="445.6" y2="1519" stroke="#000" stroke-width="1.2" />
<line x1="394.6" y1="1522.5" x2="445.6" y2="1522.5" stroke="#000" stroke-width="1.2" />
<line x1="419.75" y1="1200" x2="419.75" y2="1576.5" stroke="#222" stroke-width="1.0" stroke-dasharray="18 4 3 4"/>
<line x1="293.75" y1="1234.5" x2="364.6" y2="1234.5" stroke="#000" stroke-width="1.5" />
<line x1="293.75" y1="1317.75" x2="362.4" y2="1317.75" stroke="#000" stroke-width="1.5" />
<line x1="306.6" y1="1234.5" x2="306.6" y2="1333.5" stroke="#000" stroke-width="1.5" />
<polygon points="306.6,1234.5 309.1,1251.5 304.1,1251.5" fill="#000"/>
<polygon points="306.6,1317.75 304.1,1300.75 309.1,1300.75" fill="#000"/>
<path d="M301.7,1468.7 L285.6,1468.7 L294.12,1463.02 L285.6,1457.34 L301.7,1457.34 M290.62,1451.23 L301.7,1451.23 M286.17,1451.23 L287.87,1451.23 M290.62,1445.7 L301.7,1445.7 M293.18,1445.7 L290.62,1443.33 L290.62,1437.65 L293.18,1435.28 L301.7,1435.28 M288.44,1432.1 L285.6,1428.5 L301.7,1428.5 M301.7,1432.1 L301.7,1425.66 M293.46,1418.7 L293.46,1408.28 M288.44,1406.7 L285.6,1403.86 L285.6,1399.12 L288.44,1396.28 L291.28,1396.28 L293.65,1399.12 L293.65,1403.39 M293.65,1399.12 L296.49,1396.28 L298.86,1396.28 L301.7,1399.12 L301.7,1403.86 L298.86,1406.7 M301.7,1390 L285.6,1379.96 M288.44,1374 L285.6,1370.4 L301.7,1370.4 M301.7,1374 L301.7,1367.56 M285.6,1355.25 L285.6,1359.04 L289.86,1362.83 L293.18,1363.3 L298.86,1363.3 L301.7,1360.46 L301.7,1355.72 L298.86,1352.88 L295.54,1352.88 L292.8,1355.72 L292.8,1360.46 L295.54,1363.3 M290.15,1347.23 L285.79,1345.33 M290.15,1344.29 L285.79,1342.21" fill="none" stroke="#333" stroke-width="1.4" stroke-linejoin="round" stroke-linecap="round"/>
<path d="M311.4,1437.53 L316.71,1443.42 L322.49,1443.42 L327.8,1437.53 M314.29,1433.1 L311.4,1430.21 L311.4,1425.38 L314.29,1422.49 L317.19,1422.49 L319.6,1425.38 L319.6,1429.72 M319.6,1425.38 L322.49,1422.49 L324.91,1422.49 L327.8,1425.38 L327.8,1430.21 L324.91,1433.1 M311.4,1415.19 L311.4,1411.33 L314.29,1408.92 L324.91,1408.92 L327.8,1411.33 L327.8,1415.19 L324.91,1417.6 L314.29,1417.6 L311.4,1415.19 M316.51,1402.2 L327.8,1402.2 M318.64,1402.2 L316.51,1400.27 L316.51,1398.34 L318.64,1396.41 L327.8,1396.41 M318.64,1396.41 L316.51,1394.48 L316.51,1392.55 L318.64,1390.62 L327.8,1390.62 M316.51,1388.1 L327.8,1388.1 M318.64,1388.1 L316.51,1386.17 L316.51,1384.24 L318.64,1382.31 L327.8,1382.31 M318.64,1382.31 L316.51,1380.38 L316.51,1378.45 L318.64,1376.52 L327.8,1376.52 M311.4,1371.2 L316.71,1365.32 L322.49,1365.32 L327.8,1371.2" fill="none" stroke="#333" stroke-width="1.4" stroke-linejoin="round" stroke-linecap="round"/>
<line x1="433" y1="1208.6" x2="581.75" y2="1208.6" stroke="#000" stroke-width="1.5" />
<line x1="455.75" y1="1557.4" x2="581.75" y2="1557.4" stroke="#000" stroke-width="1.5" />
<line x1="569.4" y1="1209" x2="569.4" y2="1335.75" stroke="#000" stroke-width="1.5" />
<line x1="569.4" y1="1443.75" x2="569.4" y2="1557.4" stroke="#000" stroke-width="1.5" />
<polygon points="569.4,1208.6 571.9,1225.6 566.9,1225.6" fill="#000"/>
<polygon points="569.4,1557.4 566.9,1540.4 571.9,1540.4" fill="#000"/>
<path d="M554.76,1429.68 L552.82,1431.43 L549.14,1431.43 L547,1429.49 L547,1424.15 L549.14,1422.21 L552.82,1422.21 L554.76,1423.96 L554.76,1429.68 L557.48,1432.4 L561.07,1432.4 L563.5,1429.68 L563.5,1423.96 L561.07,1421.24 L557.48,1421.24 L554.76,1423.96 M555.06,1417 L555.06,1406.32 M550.2,1400.9 L547,1397.5 L547,1392.65 L550.2,1389.25 L553.31,1389.25 L555.74,1392.16 L556.32,1397.79 L558.94,1400.61 L563.5,1400.61 L563.5,1389.25 M563.5,1384.4 L547,1374.11 M549.91,1369 L547,1366.09 L547,1361.24 L549.91,1358.32 L552.82,1358.32 L555.25,1361.24 L555.25,1365.6 M555.25,1361.24 L558.16,1358.32 L560.59,1358.32 L563.5,1361.24 L563.5,1366.09 L560.59,1369 M551.66,1351.91 L547.19,1349.97 M551.66,1348.91 L547.19,1346.77" fill="none" stroke="#333" stroke-width="1.4" stroke-linejoin="round" stroke-linecap="round"/>
<path d="M573.25,1429.96 L578.7,1436 L584.65,1436 L590.1,1429.96 M576.52,1426.75 L573.25,1423.28 L573.25,1418.33 L576.52,1414.86 L579.69,1414.86 L582.17,1417.83 L582.77,1423.58 L585.44,1426.45 L590.1,1426.45 L590.1,1414.86 M576.52,1410.6 L573.25,1407.13 L573.25,1402.17 L576.52,1398.71 L579.69,1398.71 L582.17,1401.68 L582.77,1407.43 L585.44,1410.3 L590.1,1410.3 L590.1,1398.71 M573.25,1391.27 L573.25,1387.31 L576.22,1384.83 L587.13,1384.83 L590.1,1387.31 L590.1,1391.27 L587.13,1393.75 L576.22,1393.75 L573.25,1391.27 M578.5,1381 L590.1,1381 M580.68,1381 L578.5,1379.02 L578.5,1377.04 L580.68,1375.05 L590.1,1375.05 M580.68,1375.05 L578.5,1373.07 L578.5,1371.09 L580.68,1369.11 L590.1,1369.11 M578.5,1364.9 L590.1,1364.9 M580.68,1364.9 L578.5,1362.92 L578.5,1360.94 L580.68,1358.95 L590.1,1358.95 M580.68,1358.95 L578.5,1356.97 L578.5,1354.99 L580.68,1353.01 L590.1,1353.01 M573.25,1348.75 L578.7,1342.7 L584.65,1342.7 L590.1,1348.75" fill="none" stroke="#333" stroke-width="1.4" stroke-linejoin="round" stroke-linecap="round"/>
<line x1="378" y1="1506.3" x2="444.5" y2="1506.3" stroke="#000" stroke-width="1.5" />
<polygon points="395,1506.3 412,1503.8 412,1508.8" fill="#000"/>
<polygon points="444.5,1506.3 427.5,1508.8 427.5,1503.8" fill="#000"/>
<path d="M293.1,1488.18 L296.74,1485.3 L296.74,1501.6 M293.1,1501.6 L299.62,1501.6 M304.7,1493.26 L315.25,1493.26 M320,1488.18 L323.64,1485.3 L323.64,1501.6 M320,1501.6 L326.52,1501.6 M330.6,1501.6 L340.76,1485.3 M354.57,1501.6 L354.57,1485.3 L346.9,1495.85 L357.45,1495.85 M362.98,1489.9 L364.9,1485.49 M365.95,1489.9 L368.06,1485.49" fill="none" stroke="#333" stroke-width="1.4" stroke-linejoin="round" stroke-linecap="round"/>
<path d="M297.23,1511.8 L291.38,1517.07 L291.38,1522.83 L297.23,1528.1 M301.9,1514.68 L304.78,1511.8 L309.57,1511.8 L312.45,1514.68 L312.45,1517.55 L309.57,1519.95 L305.26,1519.95 M309.57,1519.95 L312.45,1522.83 L312.45,1525.22 L309.57,1528.1 L304.78,1528.1 L301.9,1525.22 M316.9,1514.96 L320.26,1511.8 L325.05,1511.8 L328.41,1514.96 L328.41,1518.03 L325.53,1520.43 L319.97,1521 L317.19,1523.59 L317.19,1528.1 L328.41,1528.1 M333.1,1516.88 L333.1,1528.1 M333.1,1518.99 L335.02,1516.88 L336.94,1516.88 L338.85,1518.99 L338.85,1528.1 M338.85,1518.99 L340.77,1516.88 L342.69,1516.88 L344.61,1518.99 L344.61,1528.1 M349,1516.88 L349,1528.1 M349,1518.99 L350.92,1516.88 L352.84,1516.88 L354.75,1518.99 L354.75,1528.1 M354.75,1518.99 L356.67,1516.88 L358.59,1516.88 L360.51,1518.99 L360.51,1528.1 M365.3,1511.8 L371.15,1517.07 L371.15,1522.83 L365.3,1528.1" fill="none" stroke="#333" stroke-width="1.4" stroke-linejoin="round" stroke-linecap="round"/>
<ellipse cx="1190" cy="1145.5" rx="221.3" ry="129.8" fill="#fff" stroke="#000" stroke-width="4.5"/>
<path d="M1048.78,1099.6 L1321.52,1099.6 A165,84.2 0 1 1 1048.78,1099.6 Z" fill="#6b6b6b" stroke="#000" stroke-width="5"/>
<path d="M1087.5,1118.5 L1283.5,1118.5 C1292,1124 1303.3,1133 1303.3,1147 C1302,1187 1246,1212.2 1185.5,1212.2 C1125,1212.2 1069,1187 1067.7,1147 C1067.7,1133 1079,1124 1087.5,1118.5 Z" fill="#999" stroke="#000" stroke-width="3.8" stroke-linejoin="round"/>
<circle cx="1190" cy="1166.6" r="16.4" fill="#999" stroke="#000" stroke-width="4.2"/>
<circle cx="1190" cy="1166.6" r="9.5" fill="#000"/>
<circle cx="1124.6" cy="1059.4" r="16.2" fill="#dc3a72"/>
<circle cx="1250.6" cy="1059.4" r="16.2" fill="#dc3a72"/>
<line x1="1123.5" y1="947.5" x2="1123.5" y2="1058.5" stroke="#000" stroke-width="1.0" stroke-dasharray="3.5 2"/>
<line x1="1252.5" y1="947.5" x2="1252.5" y2="1058.5" stroke="#000" stroke-width="1.0" stroke-dasharray="3.5 2"/>
<line x1="1136" y1="994.5" x2="1240" y2="994.5" stroke="#000" stroke-width="1.0" stroke-dasharray="4 2"/>
<polygon points="1123.5,994.5 1136.5,990.25 1136.5,998.75" fill="#000"/>
<polygon points="1252.5,994.5 1239.5,998.75 1239.5,990.25" fill="#000"/>
<text x="1129.4" y="979" font-family="&quot;Liberation Sans&quot;, sans-serif" font-size="17" font-weight="normal" font-style="normal" fill="#111" textLength="120.6" lengthAdjust="spacingAndGlyphs" >4-inch centerset</text>
<text x="1055" y="1330" font-family="&quot;Liberation Sans&quot;, sans-serif" font-size="30.5" font-weight="normal" font-style="normal" fill="#222" textLength="279" lengthAdjust="spacingAndGlyphs" >Suit for 4-inch Basin</text>
<ellipse cx="953.9" cy="1414.6" rx="42.9" ry="30.3" fill="#e6e6e6"/>
<clipPath id="hc1414"><ellipse cx="953.9" cy="1414.6" rx="42.9" ry="30.3"/></clipPath>
<ellipse cx="953.9" cy="1439.8999999999999" rx="40.754999999999995" ry="30.3" fill="#8e8e8e" stroke="#231f20" stroke-width="1.3" clip-path="url(#hc1414)"/>
<ellipse cx="953.9" cy="1414.6" rx="42.9" ry="30.3" fill="none" stroke="#231f20" stroke-width="2"/>
<ellipse cx="958" cy="1525" rx="44.8" ry="31" fill="#e6e6e6"/>
<clipPath id="hc1525"><ellipse cx="958" cy="1525" rx="44.8" ry="31"/></clipPath>
<ellipse cx="958" cy="1550.0" rx="42.559999999999995" ry="31" fill="#8e8e8e" stroke="#231f20" stroke-width="1.3" clip-path="url(#hc1525)"/>
<ellipse cx="958" cy="1525" rx="44.8" ry="31" fill="none" stroke="#231f20" stroke-width="2"/>
<line x1="828" y1="1414.6" x2="890" y2="1414.6" stroke="#231f20" stroke-width="1.4" />
<polygon points="911.4,1414.6 884.4,1422.1 884.4,1407.1" fill="#231f20"/>
<line x1="1020" y1="1414.6" x2="1080.5" y2="1414.6" stroke="#231f20" stroke-width="1.4" />
<polygon points="1000,1414.6 1027,1407.1 1027,1422.1" fill="#231f20"/>
<text x="1083.8" y="1422" font-family="&quot;Liberation Sans&quot;, sans-serif" font-size="27.5" font-weight="normal" font-style="normal" fill="#333" textLength="351.5" lengthAdjust="spacingAndGlyphs" >1.25inch(min)-1.6inch(max)</text>
<line x1="958" y1="1459" x2="958" y2="1486" stroke="#111" stroke-width="1.5" stroke-dasharray="2 2"/>
<polygon points="958,1493 954,1485 962,1485" fill="#111"/>
<line x1="960" y1="1492" x2="1086.7" y2="1492" stroke="#111" stroke-width="1.5" stroke-dasharray="2 2"/>
<line x1="960" y1="1519" x2="1086.7" y2="1519" stroke="#111" stroke-width="1.5" stroke-dasharray="2 2"/>
<line x1="958" y1="1526" x2="958" y2="1554" stroke="#111" stroke-width="1.5" stroke-dasharray="2 2"/>
<polygon points="958,1519 962,1527 954,1527" fill="#111"/>
<text x="1057.8" y="1514.8" font-family="&quot;Liberation Sans&quot;, sans-serif" font-size="27.5" font-weight="normal" font-style="normal" fill="#333" textLength="347.8" lengthAdjust="spacingAndGlyphs" >Max deck thickness 1.3inch</text>
</svg>
</body></html>
